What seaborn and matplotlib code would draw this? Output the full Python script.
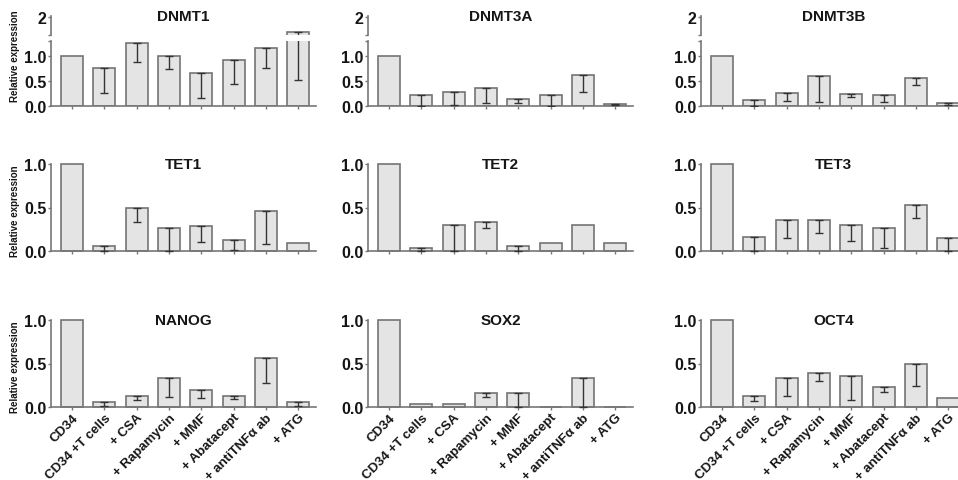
import matplotlib
matplotlib.use("Agg")
import matplotlib.pyplot as plt
import seaborn as sns
import pandas as pd

# x categories (same for every panel)
conditions = ["CD34", "CD34 +T cells", "+ CSA", "+ Rapamycin", "+ MMF",
              "+ Abatacept", "+ antiTNF\u03b1 ab", "+ ATG"]

# relative expression
dnmt1 = [1.0, 0.76, 1.27, 1.0, 0.66, 0.93, 1.16, 1.73]
dnmt3a = [1.0, 0.22, 0.29, 0.36, 0.15, 0.22, 0.63, 0.05]
dnmt3b = [1.0, 0.13, 0.26, 0.60, 0.24, 0.22, 0.56, 0.06]
tet1 = [1.0, 0.06, 0.49, 0.26, 0.29, 0.13, 0.46, 0.09]
tet2 = [1.0, 0.03, 0.30, 0.33, 0.06, 0.09, 0.30, 0.09]
tet3 = [1.0, 0.16, 0.36, 0.36, 0.30, 0.26, 0.53, 0.15]
nanog = [1.0, 0.06, 0.13, 0.33, 0.20, 0.13, 0.56, 0.06]
sox2 = [1.0, 0.03, 0.03, 0.16, 0.16, 0.0, 0.33, 0.0]
oct4 = [1.0, 0.13, 0.33, 0.39, 0.36, 0.23, 0.50, 0.10]

# error (only drawn downwards), None = no bar shown
dnmt1_err = [None, 0.50, 0.39, 0.26, 0.50, 0.49, 0.40, 1.21]
dnmt3a_err = [None, 0.22, 0.26, 0.29, 0.08, 0.22, 0.34, 0.02]
dnmt3b_err = [None, 0.13, 0.16, 0.52, 0.06, 0.14, 0.14, 0.03]
tet1_err = [None, 0.06, 0.16, 0.26, 0.19, 0.12, 0.38, None]
tet2_err = [None, 0.03, 0.30, 0.06, 0.06, None, None, None]
tet3_err = [None, 0.16, 0.21, 0.15, 0.18, 0.23, 0.15, 0.15]
nanog_err = [None, 0.05, 0.05, 0.21, 0.10, 0.04, 0.28, 0.05]
sox2_err = [None, None, None, 0.05, 0.16, None, 0.33, None]
oct4_err = [None, 0.06, 0.20, 0.09, 0.28, 0.06, 0.26, None]

BAR_FILL = "#e4e4e4"
BAR_EDGE = "#747474"
ERR_COL = "#333333"
AX_COL = "#777777"
TXT = "#151515"

W, H = 958, 481

sns.set_theme(style="ticks")
plt.rcParams["font.family"] = ["Liberation Sans", "DejaVu Sans"]
plt.rcParams["font.weight"] = "bold"


def px_axes(fig, left, top, right, bottom):
    return fig.add_axes([left / W, 1 - bottom / H, (right - left) / W, (bottom - top) / H])


def draw_bars(ax, values, errs, clip=True):
    df = pd.DataFrame({"condition": conditions, "value": values})
    sns.barplot(data=df, x="condition", y="value", order=conditions,
                color=BAR_FILL, edgecolor=BAR_EDGE, linewidth=1.2, width=0.68,
                saturation=1, errorbar=None, ax=ax)
    idx = [i for i, e in enumerate(errs) if e is not None]
    ax.errorbar(idx, [values[i] for i in idx],
                yerr=[[errs[i] for i in idx], [0] * len(idx)],
                fmt="none", ecolor=ERR_COL, elinewidth=1.0, capsize=3,
                capthick=1.0, clip_on=clip, zorder=3)
    if not clip:
        for p in ax.patches:
            p.set_clip_on(False)
    ax.set_xlim(-0.65, 7.55)
    ax.set_xlabel("")
    ax.set_ylabel("")


def style(ax, bottom=True):
    sns.despine(ax=ax, bottom=not bottom)
    for s in ["left", "bottom"]:
        ax.spines[s].set_color(AX_COL)
        ax.spines[s].set_linewidth(1.2)
    ax.tick_params(axis="y", length=2, width=1, color=AX_COL, pad=1,
                   labelsize=11.5, labelcolor=TXT)
    ax.tick_params(axis="x", length=2, width=1, color=AX_COL, pad=1,
                   labelsize=9.5, labelcolor=TXT)


fig = plt.figure(figsize=(W / 100, H / 100), dpi=100)

col_left = [51, 368, 701]
col_right = [316, 633, 966]

# top row: broken y axis
top_row = [("DNMT1", dnmt1, dnmt1_err), ("DNMT3A", dnmt3a, dnmt3a_err),
           ("DNMT3B", dnmt3b, dnmt3b_err)]
for c, (name, vals, errs) in enumerate(top_row):
    lo = px_axes(fig, col_left[c], 42, col_right[c], 107)
    draw_bars(lo, vals, errs)
    lo.set_ylim(0, 1.3)
    lo.set_yticks([0, 0.5, 1.0, 1.3])
    lo.set_yticklabels(["0.0", "0.5", "1.0", ""])
    lo.set_xticklabels([])
    style(lo)

    hi = px_axes(fig, col_left[c], 17, col_right[c], 36)
    draw_bars(hi, vals, errs)
    hi.set_ylim(1.68, 2.02)
    hi.set_yticks([1.68, 2.0])
    hi.set_yticklabels(["", "2"])
    hi.set_xticks([])
    style(hi, bottom=False)
    hi.text(0.5, 1.0, name, transform=hi.transAxes, ha="center", va="center",
            fontsize=11, fontweight="bold", color=TXT)

fig.text(15 / W, 1 - 56 / H, "Relative expression", rotation=90, ha="center",
         va="center", fontsize=7, fontweight="bold", color=TXT)

# lower rows
rows = [
    [("TET1", tet1, tet1_err), ("TET2", tet2, tet2_err), ("TET3", tet3, tet3_err)],
    [("NANOG", nanog, nanog_err), ("SOX2", sox2, sox2_err), ("OCT4", oct4, oct4_err)],
]
row_top = [165, 321]
for r, row in enumerate(rows):
    for c, (name, vals, errs) in enumerate(row):
        ax = px_axes(fig, col_left[c], row_top[r], col_right[c], row_top[r] + 87)
        draw_bars(ax, vals, errs, clip=False)
        ax.set_ylim(0, 1.0)
        ax.set_yticks([0, 0.5, 1.0])
        ax.set_yticklabels(["0.0", "0.5", "1.0"])
        if r == 1:
            ax.set_xticklabels(conditions, rotation=45, ha="right",
                               rotation_mode="anchor", fontweight="bold")
        else:
            ax.set_xticklabels([])
        style(ax)
        ax.text(0.5, 1.0, name, transform=ax.transAxes, ha="center", va="center",
                fontsize=11, fontweight="bold", color=TXT)
    fig.text(15 / W, 1 - (row_top[r] + 46) / H, "Relative expression", rotation=90,
             ha="center", va="center", fontsize=7, fontweight="bold", color=TXT)

fig.savefig("out.png", dpi=100)
